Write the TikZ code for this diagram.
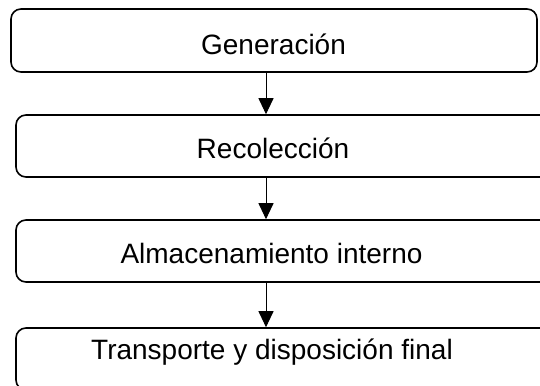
\documentclass[tikz,border=0pt]{standalone}
\usepackage{fontspec}
\setmainfont{Liberation Sans}
\usetikzlibrary{arrows.meta}
\begin{document}
\begin{tikzpicture}[x=1pt,y=-1pt,
  stagebox/.style={draw=black, line width=1.6pt, rounded corners=10pt, inner sep=0pt},
  lbl/.style={font=\fontsize{28}{32}\selectfont, inner sep=0pt, anchor=center},
  arr/.style={line width=1pt, -{Triangle[length=16pt,width=15pt]}}]
\useasboundingbox (0,0) rectangle (540,385);
\node[stagebox, minimum width=526pt, minimum height=63pt] (b1) at (274,40.5) {};
\node[stagebox, minimum width=534pt, minimum height=62pt] (b2) at (283,146) {};
\node[stagebox, minimum width=534pt, minimum height=62pt] (b3) at (283,251) {};
\node[stagebox, minimum width=534pt, minimum height=62pt] (b4) at (283,359) {};
\node[lbl] (t1) at (273.5,44) {Generación};
\node[lbl] (t2) at (273,148) {Recolección};
\node[lbl] (t3) at (271.5,253) {Almacenamiento interno};
\node[lbl] (t4) at (272,352) {Transporte y disposición final};
\coordinate (ax) at (266,0);
\draw[arr] (b1.south -| ax) -- (b2.north -| ax);
\draw[arr] (b2.south -| ax) -- (b3.north -| ax);
\draw[arr] (b3.south -| ax) -- (b4.north -| ax);
\end{tikzpicture}
\end{document}
